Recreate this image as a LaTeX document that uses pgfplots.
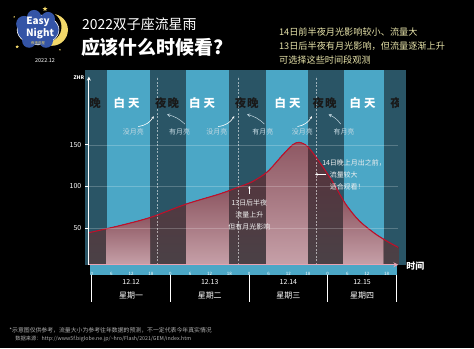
\documentclass[border=0pt]{standalone}
\usepackage{fontspec}
\setmainfont{Noto Sans CJK SC}
\usepackage{xcolor}
\usepackage{pgfplots}
\usepackage{pgfplotstable}
\pgfplotsset{compat=1.18}
\usepgfplotslibrary{fillbetween}
\usetikzlibrary{arrows.meta,shapes.geometric}

\definecolor{lightband}{HTML}{4BA7C6}
\definecolor{darkband}{HTML}{2A5566}
\definecolor{underdarkTop}{HTML}{58323C}
\definecolor{underdarkBot}{HTML}{4A4146}
\definecolor{underlightTop}{HTML}{8E5863}
\definecolor{underlightBot}{HTML}{C6A0A8}
\definecolor{curvered}{HTML}{C0102A}
\definecolor{axispink}{HTML}{E7A3B1}
\definecolor{notecol}{HTML}{E8E4AA}
\definecolor{moontext}{HTML}{C5D9E2}
\definecolor{logoblue}{HTML}{3454A6}
\definecolor{footgray}{HTML}{B0B0B0}
\definecolor{moonyellow}{HTML}{F2D86A}

\pgfplotstableread{
h zhr
-1.5 44
8.6 53
18.0 63
28.9 79
39.0 91
44.6 99
49.1 106
53.7 118
58.3 138
61.3 150
63.3 153
65.9 148
69.4 130
73.5 106
77.5 79
81.6 59
86.6 43
90.7 33
94.2 25.5
}\zhrdata

\newcommand{\fs}[1]{\fontsize{#1}{#1}\selectfont}

\begin{document}
\pagecolor{black}
\begin{tikzpicture}
\path (0pt,0pt) rectangle (474pt,350pt);
% tick strip
\fill[lightband] (88pt,74pt) rectangle (397pt,84pt);

\begin{axis}[
  at={(87pt,84pt)}, anchor=south west,
  scale only axis, width=311pt, height=189pt,
  xmin=-0.91, xmax=93.6, ymin=6, ymax=232,
  set layers, axis on top, clip=true,
  axis lines=left,
  x axis line style={draw=axispink, line width=1pt, -{Stealth[length=5pt,width=5pt]}},
  y axis line style={draw=white, line width=0.8pt, -{Stealth[length=4pt,width=4pt]}},
  xtick={0,6,...,90},
  xticklabels={0,6,12,18,0,6,12,18,0,6,12,18,0,6,12,18},
  xtick style={draw=none},
  xticklabel style={font=\fs{4.5}, text=white, anchor=center, yshift=-5.5pt},
  ytick={50,100,150},
  ytick style={draw=white, line width=0.8pt},
  major tick length=4pt, tick align=outside,
  yticklabel style={font=\fs{7}, text=white},
  ymajorgrids, grid style={white, opacity=0.22, line width=0.5pt},
  /pgf/number format/assume math mode=true,
]
% background bands
\addplot[draw=none, fill=darkband, on layer=axis background] coordinates {(-2,240) (96,240)} \closedcycle;
\addplot[draw=none, fill=lightband, on layer=axis background] coordinates {(4.56,240) (17.9,240)} \closedcycle;
\addplot[draw=none, fill=lightband, on layer=axis background] coordinates {(28.9,240) (41.9,240)} \closedcycle;
\addplot[draw=none, fill=lightband, on layer=axis background] coordinates {(53.2,240) (66.0,240)} \closedcycle;
\addplot[draw=none, fill=lightband, on layer=axis background] coordinates {(76.9,240) (89.1,240)} \closedcycle;

% curve path and fills
\addplot[name path=curve, draw=none, smooth, tension=0.5] table {\zhrdata};
\addplot[name path=base, draw=none] coordinates {(-3,6) (97,6)};
\addplot[top color=underdarkTop, bottom color=underdarkBot, draw=none] fill between[of=curve and base];
\addplot[top color=underlightTop, bottom color=underlightBot, draw=none] fill between[of=curve and base, soft clip={domain=4.56:17.9}];
\addplot[top color=underlightTop, bottom color=underlightBot, draw=none] fill between[of=curve and base, soft clip={domain=28.9:41.9}];
\addplot[top color=underlightTop, bottom color=underlightBot, draw=none] fill between[of=curve and base, soft clip={domain=53.2:66.0}];
\addplot[top color=underlightTop, bottom color=underlightBot, draw=none] fill between[of=curve and base, soft clip={domain=76.9:89.1}];

% moonrise dashed lines
\addplot[white, opacity=0.55, line width=0.5pt, dash pattern=on 2pt off 1.5pt] coordinates {(20.1,6) (20.1,232)};
\addplot[white, opacity=0.55, line width=0.5pt, dash pattern=on 2pt off 1.5pt] coordinates {(44.7,6) (44.7,232)};
\addplot[white, opacity=0.55, line width=0.5pt, dash pattern=on 2pt off 1.5pt] coordinates {(68.4,6) (68.4,232)};

% curve line
\addplot[curvered, line width=1.1pt, smooth, tension=0.5] table {\zhrdata};

% band labels
\begin{scope}[every node/.style={font=\fs{11.5}\bfseries}]
\node[text=black!90] at (axis cs:-0.9,199.7) {夜\hspace{1pt}晚};
\node[text=white] at (axis cs:10.6,199.7) {白\hspace{3pt}天};
\node[text=black!90] at (axis cs:23.0,199.7) {夜\hspace{1pt}晚};
\node[text=white] at (axis cs:33.7,199.7) {白\hspace{3pt}天};
\node[text=black!90] at (axis cs:47.3,199.7) {夜\hspace{1pt}晚};
\node[text=white] at (axis cs:59.8,199.7) {白\hspace{3pt}天};
\node[text=black!90] at (axis cs:71.1,199.7) {夜\hspace{1pt}晚};
\node[text=white] at (axis cs:82.7,199.7) {白\hspace{3pt}天};
\node[text=black!90] at (axis cs:94.8,199.7) {夜\hspace{1pt}晚};
\end{scope}

% moon labels
\begin{scope}[every node/.style={font=\fs{7}, text=moontext}]
\node at (axis cs:12.7,165.7) {没月亮};
\node at (axis cs:26.8,165.7) {有月亮};
\node at (axis cs:38.2,165.7) {没月亮};
\node at (axis cs:52.2,165.7) {有月亮};
\node at (axis cs:64.3,165.7) {没月亮};
\node at (axis cs:77.0,165.7) {有月亮};
\end{scope}
\draw[white, line width=0.6pt, -{Stealth[length=2.5pt,width=2.5pt]}] (axis cs:14.2,172) to[bend right=25] (axis cs:18.9,184.5);
\draw[moontext, line width=0.5pt, -{Straight Barb[length=2.5pt,width=3pt]}] (axis cs:28.4,175) to[bend right=15] (axis cs:23.0,186.5);
\draw[white, line width=0.6pt, -{Stealth[length=2.5pt,width=2.5pt]}] (axis cs:38.6,172) to[bend right=25] (axis cs:43.5,184.5);
\draw[moontext, line width=0.5pt, -{Straight Barb[length=2.5pt,width=3pt]}] (axis cs:52.7,175) to[bend right=15] (axis cs:47.4,186.5);
\draw[white, line width=0.6pt, -{Stealth[length=2.5pt,width=2.5pt]}] (axis cs:62.8,172) to[bend right=25] (axis cs:67.2,184.5);
\draw[moontext, line width=0.5pt, -{Straight Barb[length=2.5pt,width=3pt]}] (axis cs:76.0,175) to[bend right=15] (axis cs:72.3,186.5);

% annotation 1
\draw[white, line width=0.6pt, -{Stealth[length=2.5pt,width=2.5pt]}] (axis cs:48.1,91) -- (axis cs:48.1,100.5);
\begin{scope}[every node/.style={font=\fs{7}, text=white!94!black}]
\node at (axis cs:48.1,80.8) {13日后半夜};
\node at (axis cs:48.1,66.1) {流量上升};
\node at (axis cs:48.1,51.9) {但有月光影响};
% annotation 2
\node[anchor=west, inner sep=0pt] at (axis cs:70.3,128.2) {14日晚上月出之前，};
\node[anchor=west, inner sep=0pt] at (axis cs:72.6,114.4) {流量较大};
\node[anchor=west, inner sep=0pt] at (axis cs:72.6,99.3) {适合观看！};
\end{scope}
\draw[white, line width=0.6pt, -{Stealth[length=2.5pt,width=2.5pt]}] (axis cs:71.6,114.4) -- (axis cs:68.2,114.4);
\end{axis}

% ZHR label and time label
\node[white, font=\fs{5}\bfseries, inner sep=0pt] at (77pt,272pt) {ZHR};
\node[white, font=\fs{9}\bfseries, inner sep=0pt] at (415pt,83pt) {时间};

% date row
\foreach \x in {90,169,248,327,396} \draw[white, line width=0.9pt] (\x pt,74pt) -- (\x pt,47pt);
\begin{scope}[every node/.style={white, inner sep=0pt}]
\node[font=\fs{7}] at (129.5pt,67pt) {12.12};
\node[font=\fs{8}] at (129.5pt,53pt) {星期一};
\node[font=\fs{7}] at (208.5pt,67pt) {12.13};
\node[font=\fs{8}] at (208.5pt,53pt) {星期二};
\node[font=\fs{7}] at (287.5pt,67pt) {12.14};
\node[font=\fs{8}] at (287.5pt,53pt) {星期三};
\node[font=\fs{7}] at (361.5pt,67pt) {12.15};
\node[font=\fs{8}] at (361.5pt,53pt) {星期四};
\end{scope}

% titles
\node[anchor=west, white, inner sep=0pt, font=\fs{14}] at (80pt,326pt) {2022双子座流星雨};
\node[anchor=west, white, inner sep=0pt, font=\fs{19}\bfseries] at (79pt,302pt) {应该什么时候看?};

% notes
\begin{scope}[every node/.style={anchor=west, text=notecol, inner sep=0pt, font=\fs{9.2}}]
\node at (278pt,318pt) {14日前半夜月光影响较小、流量大};
\node at (278pt,304pt) {13日后半夜有月光影响，但流量逐渐上升};
\node at (278pt,290pt) {可选择这些时间段观测};
\end{scope}

% footnote
\node[anchor=west, text=footgray, inner sep=0pt, font=\fs{5.9}] at (7pt,18pt) {*示意图仅供参考，流量大小为参考往年数据的预测，不一定代表今年真实情况};
\node[anchor=west, text=footgray, inner sep=0pt, font=\fs{5.3}] at (13pt,9pt) {数据来源：http://www5f.biglobe.ne.jp/\textasciitilde hro/Flash/2021/GEM/index.htm};

% logo
\fill[moonyellow] (50pt,320pt) circle (16pt);
\fill[black] (44pt,323pt) circle (15.5pt);
\fill[logoblue, draw=white, line width=0.6pt] (36pt,320pt) ellipse (21pt and 15pt);
\fill[logoblue] (22pt,326pt) circle (8pt);
\fill[logoblue] (32pt,333pt) circle (7pt);
\fill[logoblue] (46pt,331pt) circle (7pt);
\fill[logoblue] (27pt,309pt) circle (7pt);
\fill[logoblue] (44pt,309pt) circle (7pt);
\node[white, font=\fs{10}\bfseries\itshape, inner sep=0pt] at (36pt,328pt) {Easy};
\node[white, font=\fs{10}\bfseries, inner sep=0pt] at (38pt,316pt) {Night};
\node[moonyellow, font=\fs{3.5}, inner sep=0pt] at (36pt,307pt) {夜来观星};
\node[star, star points=5, star point ratio=2.2, fill=moonyellow, minimum size=5pt, inner sep=0pt] at (43pt,341pt) {};
\node[star, star points=5, star point ratio=2.2, fill=moonyellow, minimum size=3.5pt, inner sep=0pt] at (15pt,303pt) {};
\fill[moonyellow] (12pt,333pt) circle (0.8pt);
\fill[moonyellow] (58pt,300pt) circle (0.8pt);
\node[white, font=\fs{5.5}, inner sep=0pt] at (43pt,289pt) {2022.12};
\end{tikzpicture}
\end{document}
